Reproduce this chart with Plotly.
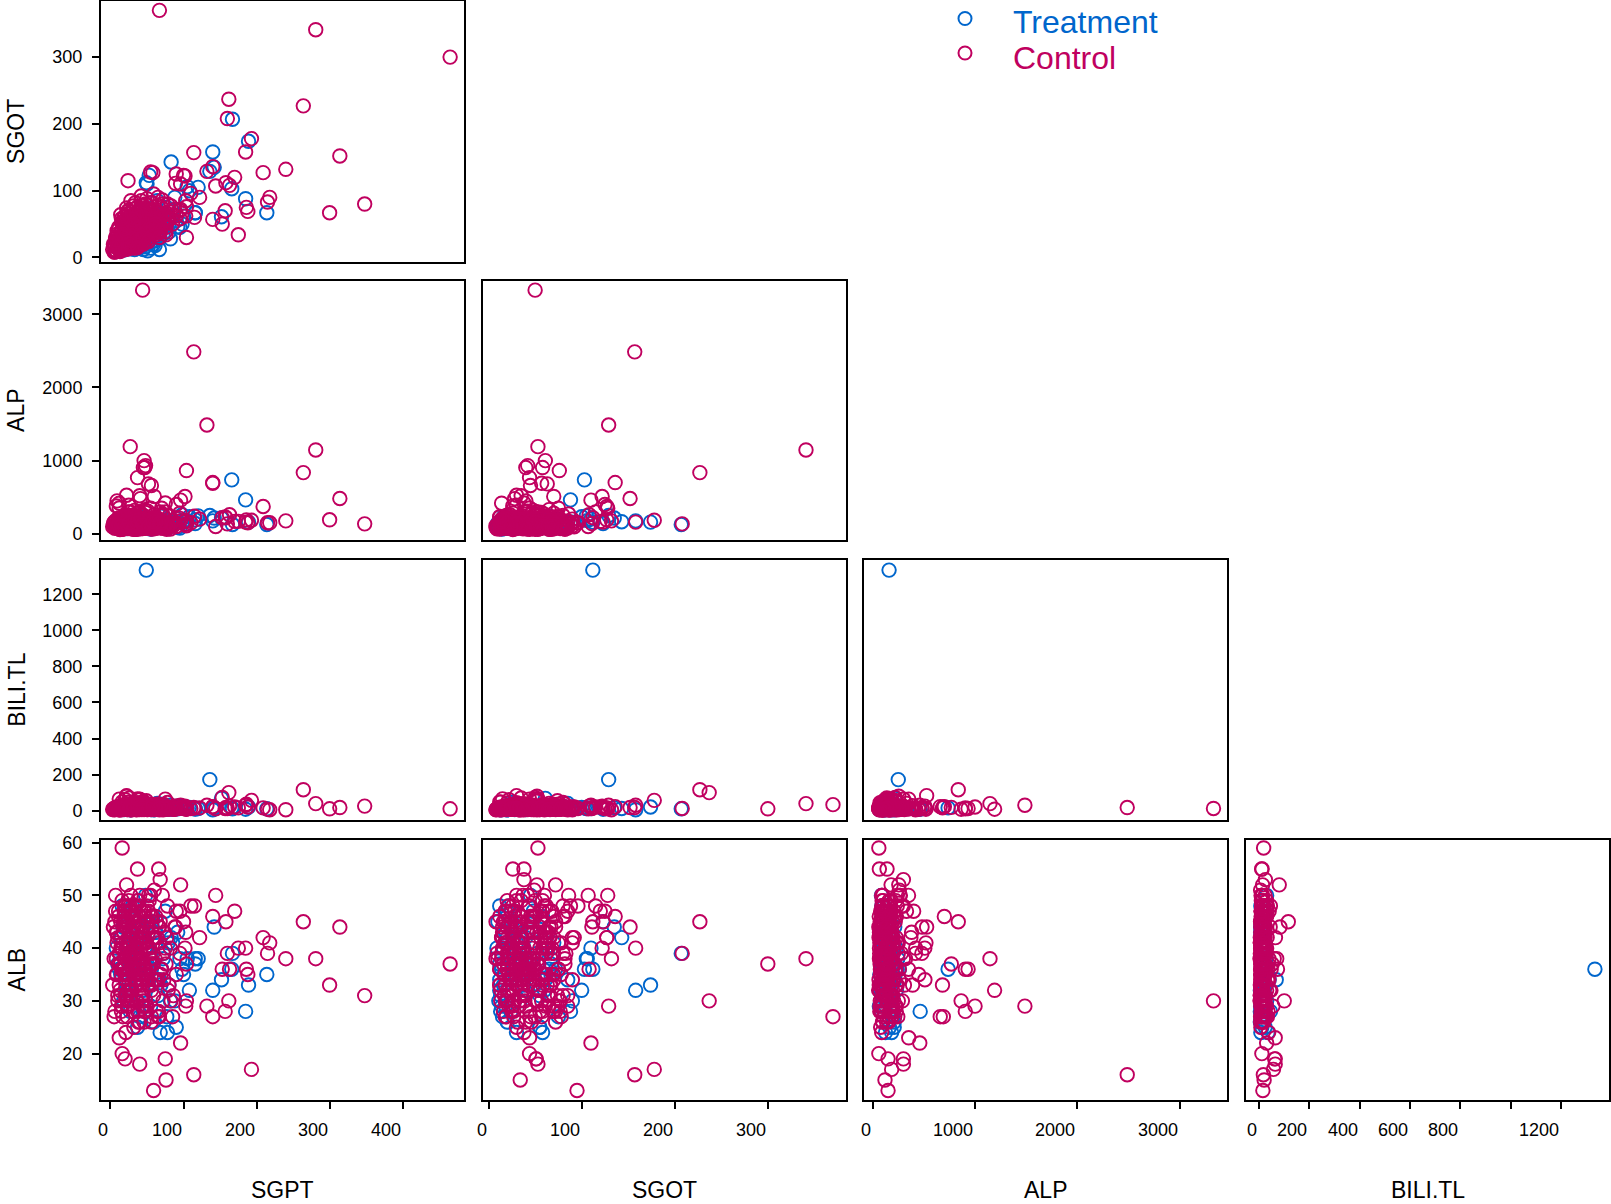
import plotly.graph_objects as go

# ---------------------------------------------------------------------------
# Lab values per subject (SGPT, SGOT, ALP, BILI.TL, ALB); None = not measured
# ---------------------------------------------------------------------------
trt_sgpt = [49, 167, 189, 140, 83, 166, 185, 214, 152, 136, 120, 108, 53, 50, 105, 142, 116,
            12, 15, 18, 20, 22, 25, 27, 30, 32, 35, 38, 40, 42, 45, 48, 50, 52, 55, 58, 60,
            62, 65, 68, 70, 75, 80, 85, 90, 95, 100, 17, 24, 28, 33, 37, 43, 47, 53, 57, 64,
            72, 78, 88, 116, 77,
            8, 14, 19, 23, 26, 29, 34, 39, 44, 47, 51, 56, 59, 63, 67, 73, 82, 92, 10, 16,
            21, 31, 36, 41, 46, 54, 61, 69, 79, 98]
trt_sgot = [112, 207, 174, 158, 143, 103, 88, 67, 61, 129, 105, 100, 123, 110, 106, 135, 67,
            14, 20, 11, 25, 16, 30, 13, 22, 35, 18, 40, 15, 28, 12, 45, 20, 38, 14, 50, 25,
            42, 55, 30, 65, 48, 38, 70, 55, 45, 62, 24, 34, 40, 12, 55, 60, 16, 72, 24, 85,
            35, 58, 90, 67, 75,
            9, 17, 28, 13, 36, 20, 48, 26, 18, 33, 10, 44, 20, 30, 12, 52, 28, 46, 16, 12,
            42, 15, 28, 58, 24, 36, 18, 48, 62, 50]
trt_alp = [160, 127, 160, 177, 165, 737, 464, 127, 215, 250, 245, 232, 140, 200, 180, 215, 190,
           80, 120, 95, 150, 70, 180, 110, 90, 200, 130, 75, 160, 100, 140, 85, 220, 115, 65, 170, 105,
           190, 88, 125, 240, 98, 150, 135, 210, 78, 175, 92, 145, 118, 82, 165, 102, 230, 125, 88, 155,
           112, 185, 160, 140, 195,
           105, 70, 135, 90, 160, 115, 78, 190, 125, 95, 148, 82, 210, 118, 100, 172, 130, 88, 155, 112,
           76, 198, 140, 92, 180, 120, 104, 165, 86, 260]
trt_bili = [1334, 10, 20, 5, 12, 15, 8, 10, 68, 172, 12, 18, 8, 12, 15, 15, 10,
            10, 6, 14, 8, 20, 12, 5, 16, 9, 25, 11, 7, 18, 13, 30, 9, 15, 6, 22, 10,
            12, 8, 35, 14, 10, 19, 7, 11, 28, 13, 9, 16, 6, 12, 24, 10, 8, 18, 14, 40,
            11, 7, 20, 9, 15,
            8, 12, 6, 15, 10, 22, 7, 14, 11, 26, 9, 13, 5, 18, 12, 8, 30, 10, 16, 7,
            20, 11, 9, 14, 45, 12, 6, 17, 10, 24]
trt_alb = [36, 39, 33, 32, 42, 36, 28, 35, 34, None, 38, 32, 45, 40, 38, 44, 37,
           36, 42, 30, 45, 33, 39, 28, 48, 35, 41, 38, 27, 44, 32, 50, 37, 40, 29, 46, 34,
           43, 31, 24, 36, 47, 33, 41, 25, 38, 35, 44, 30, 42, 37, 25, 32, 40, 36, 45, 34,
           38, 24, 30, 38, 27,
           40, 35, 44, 31, 38, 47, 33, 42, 29, 37, 45, 36, 26, 41, 34, 39, 30, 43, 37, 48,
           32, 40, 35, 46, 28, 38, 43, 33, 41, 36]

ctl_sgpt = [67, 281, 465, 162, 264, 160, 193, 185, 114, 314, 240, 209, 170, 158, 163, 140, 132,
            144, 122, 24, 186, 188, 215, 218, 300, 348, 175, 140, 104, 104, 44, 27, 46, 47, 48,
            45, 37, 52, 56, 102, 96, 90, 55, 12, 22, 40, 41, 60, 59, 75, 76, 16, 37, 66, 68, 96,
            16, 20, 40, 12, 110, 115, 103, 95, 157, 153, 103, 100, 89, 58,
            8, 10, 12, 14, 15, 16, 18, 19, 20, 21,
            22, 23, 24, 25, 26, 27, 28, 29, 30, 31,
            32, 33, 34, 35, 36, 37, 38, 39, 40, 41,
            42, 43, 44, 45, 46, 47, 48, 49, 50, 52,
            54, 55, 56, 58, 60, 62, 64, 66, 68, 70,
            72, 74, 76, 78, 80, 82, 85, 88, 90, 95,
            11, 13, 17, 19, 21, 24, 26, 28, 31, 33,
            35, 37, 39, 41, 43, 45, 48, 51, 53, 57,
            59, 61, 63, 65, 67, 69, 71, 73, 77, 83,
            9, 12, 15, 18, 20, 23, 25, 27, 29, 30,
            32, 34, 36, 38, 40, 42, 44, 46, 48, 50,
            14, 16, 18, 20, 22, 24, 26, 28, 30, 34,
            36, 38, 40, 44, 47, 50, 55, 60, 65, 75,
            6, 10, 13, 16, 19, 23, 27, 33, 39, 45,
            3, 4, 5, 6, 7, 8, 9, 10, 11, 12,
            13, 14, 15, 16, 17, 18, 19, 20, 21, 22,
            23, 24, 25, 26, 27, 28, 29, 30, 31, 32,
            33, 34, 35, 36, 37, 38, 39, 40, 41, 42,
            43, 44, 45, 46, 47, 48, 49, 50, 51, 53,
            54, 56, 57, 58, 61, 63, 66, 69, 72, 79,
            5, 7, 9, 14, 18, 22, 26, 30, 35, 42,
            17, 21, 25, 29, 33, 38, 43, 49, 56, 62,
            8, 11, 19, 24, 28, 32, 36, 41, 46, 52,
            15, 20, 26, 31, 37, 44, 52, 58, 67, 86]
ctl_sgot = [370, 341, 300, 237, 227, 208, 178, 158, 157, 152, 132, 127, 120, 112, 108, 136, 129,
            107, 90, 115, 75, 69, 83, 90, 67, 80, 34, 57, 30, 76, 50, 53, 61, 58, 42,
            40, 44, 63, 45, 122, 110, 125, 128, 14, 30, 35, 28, 70, 95, 51, 34, 53, 26, 38, 38, 72,
            44, 51, 53, 44, 96, 60, 62, 58, 70, 50, 85, 123, 111, 127,
            10, 14, 12, 18, 22, 15, 20, 28, 17, 24,
            30, 19, 26, 35, 22, 40, 28, 33, 25, 45,
            30, 38, 21, 50, 34, 27, 42, 36, 60, 31,
            46, 35, 55, 29, 40, 65, 38, 48, 33, 52,
            44, 70, 37, 58, 49, 41, 62, 55, 47, 75,
            52, 64, 45, 80, 58, 68, 50, 72, 62, 70,
            18, 26, 32, 12, 38, 16, 48, 20, 55, 26,
            24, 58, 45, 70, 25, 52, 80, 42, 62, 35,
            66, 54, 34, 78, 60, 42, 86, 58, 66, 77,
            15, 20, 25, 35, 42, 55, 30, 62, 38, 20,
            65, 44, 75, 31, 22, 85, 37, 27, 57, 72,
            30, 40, 48, 62, 52, 70, 58, 85, 48, 82,
            18, 67, 50, 78, 44, 88, 82, 36, 90, 38,
            8, 25, 9, 12, 55, 13, 16, 14, 17, 20,
            12, 20, 8, 16, 28, 22, 35, 18, 45, 26,
            14, 38, 20, 50, 27, 60, 32, 23, 44, 36,
            65, 28, 48, 17, 55, 37, 25, 42, 72, 33,
            47, 23, 62, 39, 30, 54, 26, 46, 36, 78,
            28, 61, 40, 68, 32, 50, 74, 43, 57, 30,
            63, 48, 82, 40, 56, 69, 45, 60, 80, 55,
            18, 30, 40, 64, 24, 74, 35, 18, 66, 92,
            35, 26, 70, 15, 48, 20, 33, 25, 72, 50,
            26, 16, 43, 13, 68, 56, 28, 19, 37, 42,
            58, 12, 20, 77, 15, 30, 24, 45, 30, 64]
ctl_alp = [None, 1146, None, None, 836, 135, 185, 160, 2487, 482, 177, 373, 170, 220, 260, 700, 1487,
           100, 200, 300, 190, 150, 150, 150, 191, 136, 170, 690, 110, 864, 3330, 1191, 1000, 905, 932,
           905, 768, 682, 660, 509, 460, 400, 350, 418, 527, 520, 480, 510, 150, 300, 120, 60, 65, 140, 300, 180,
           60, 150, 300, 352, 150, 240, 130, 210, 230, 220, 175, 160, 140, 190,
           85, 120, 64, 150, 98, 210, 75, 132, 180, 90,
           110, 245, 70, 160, 95, 300, 140, 88, 125, 200,
           78, 105, 170, 62, 230, 115, 92, 145, 265, 80,
           135, 190, 72, 100, 155, 330, 118, 86, 220, 128,
           95, 175, 68, 112, 260, 142, 82, 198, 105, 350,
           74, 160, 122, 90, 240, 66, 185, 130, 100, 280,
           115, 58, 205, 138, 88, 170, 102, 250, 76, 148,
           92, 225, 110, 68, 180, 124, 96, 310, 84, 152,
           130, 72, 195, 106, 158, 80, 270, 118, 62, 140,
           100, 215, 86, 165, 74, 128, 390, 94, 182, 112,
           60, 150, 235, 98, 120, 78, 172, 106, 290, 88,
           134, 70, 188, 116, 255, 82, 145, 102, 212, 66,
           96, 176, 124, 84, 200, 140, 72, 158, 108, 420,
           90, 132, 68, 228, 114, 186, 80, 104, 146, 250,
           95, 140, 110, 75, 180, 125, 88, 205, 150, 102,
           70, 165, 130, 92, 215, 118, 84, 260, 106, 145,
           190, 78, 122, 160, 98, 240, 136, 66, 175, 114,
           88, 205, 128, 150, 72, 112, 285, 96, 168, 134,
           120, 82, 196, 104, 154, 76, 230, 126, 92, 178,
           142, 100, 64, 210, 118, 166, 86, 132, 250, 108,
           160, 90, 450, 122, 74, 186, 138, 104, 228, 96,
           116, 172, 84, 146, 320, 102, 198, 80, 136, 158,
           380, 128, 94, 162, 110, 76, 144, 200, 120, 88,
           106, 232, 150, 70, 184, 124, 98, 166, 140, 112]
ctl_bili = [33, 39, 10, 100, 116, 12, 57, 30, 17, 17, 5, 15, 20, 18, 25, 22, 30,
            10, 15, 20, 35, 20, 8, 5, 10, 25, 15, 20, 10, 8, 12, 8, 20, 15, 12,
            10, 18, 15, 22, 25, 30, 12, 10, 5, 83, 8, 12, 14, 15, 64, 20, 18, 10, 12, 25, 14,
            11, 62, 64, 64, 12, 14, 20, 18, 12, 73, 9, 16, 12, 14,
            8, 12, 5, 15, 10, 20, 7, 14, 9, 25,
            11, 6, 18, 13, 30, 9, 16, 4, 22, 12,
            7, 10, 28, 14, 5, 19, 11, 35, 8, 15,
            13, 6, 24, 9, 17, 40, 10, 12, 7, 21,
            15, 8, 11, 27, 6, 14, 32, 9, 18, 10,
            5, 16, 12, 45, 8, 20, 11, 7, 26, 13,
            9, 14, 6, 19, 38, 10, 12, 23, 8, 16,
            11, 30, 7, 15, 9, 52, 13, 6, 20, 10,
            17, 8, 12, 25, 5, 14, 10, 34, 9, 18,
            12, 7, 22, 11, 16, 6, 28, 13, 8, 42,
            10, 19, 9, 14, 60, 11, 7, 24, 15, 6,
            13, 21, 8, 12, 80, 10, 17, 5, 30, 9,
            14, 11, 26, 7, 16, 12, 36, 8, 20, 10,
            6, 15, 11, 48, 9, 13, 18, 7, 22, 12,
            6, 10, 4, 14, 8, 20, 12, 7, 16, 9,
            13, 5, 18, 10, 26, 8, 15, 11, 33, 7,
            12, 20, 9, 14, 6, 24, 10, 17, 8, 29,
            11, 7, 19, 13, 44, 9, 15, 6, 21, 12,
            8, 16, 10, 31, 7, 14, 55, 11, 18, 9,
            15, 6, 22, 12, 9, 36, 13, 8, 17, 11,
            10, 14, 7, 27, 12, 9, 70, 16, 6, 20,
            9, 13, 23, 8, 15, 11, 39, 7, 18, 12,
            14, 7, 10, 47, 9, 16, 12, 21, 6, 11,
            8, 12, 18, 10, 65, 14, 9, 25, 13, 7]
ctl_alb = [27, 38, 37, 30, 45, 39, 17, 40, 16, 44, 38, 42, 47, 45, 36, 46, 29,
           50, 42, 48, 36, 35, 39, 41, 33, 31, 40, 27, 37, 30, 30, 32, 29, 28, 36,
           36, 37, 33, 27, 40, 22, 47, 50, 39, 44, 41, 39, 34, 13, 19, 15, 59, 55, 55, 53, 52,
           20, 19, 18, 23, 48, 48, 43, 47, 28, 36, 29, 45, 44, 42,
           38, 42, 33, 45, 29, 40, 36, 47, 31, 44,
           35, 27, 41, 49, 32, 38, 46, 30, 43, 37,
           25, 39, 48, 34, 42, 28, 45, 36, 50, 33,
           40, 31, 44, 37, 26, 47, 35, 41, 29, 43,
           38, 46, 32, 39, 51, 34, 42, 28, 45, 36,
           30, 43, 37, 48, 33, 40, 27, 44, 35, 39,
           47, 32, 41, 36, 24, 45, 38, 30, 43, 34,
           40, 49, 35, 42, 29, 37, 46, 33, 39, 44,
           31, 38, 45, 27, 41, 36, 50, 34, 42, 30,
           43, 37, 28, 46, 35, 40, 33, 48, 39, 32,
           44, 36, 41, 26, 38, 47, 34, 42, 30, 45,
           37, 29, 43, 39, 52, 35, 40, 31, 46, 38,
           33, 44, 36, 41, 28, 48, 37, 42, 34, 40,
           45, 31, 39, 36, 47, 30, 43, 38, 35, 41,
           33, 44, 38, 28, 47, 35, 41, 30, 46, 39,
           42, 31, 36, 49, 27, 43, 38, 34, 48, 40,
           29, 45, 37, 41, 32, 50, 36, 43, 28, 39,
           46, 34, 40, 30, 44, 37, 48, 26, 42, 35,
           38, 43, 31, 47, 36, 41, 29, 45, 34, 49,
           40, 33, 46, 37, 42, 28, 44, 35, 39, 32,
           27, 50, 35, 40, 45, 31, 38, 47, 33, 42,
           36, 41, 29, 44, 38, 49, 34, 40, 26, 46,
           43, 37, 48, 32, 39, 45, 30, 41, 36, 50,
           35, 46, 39, 28, 42, 33, 47, 37, 44, 31]

variables = ["SGPT", "SGOT", "ALP", "BILI.TL", "ALB"]
groups = ["Treatment", "Control"]
group_colors = {"Treatment": "#0066CC", "Control": "#C0005F"}
group_data = {
    "Treatment": {"SGPT": trt_sgpt, "SGOT": trt_sgot, "ALP": trt_alp, "BILI.TL": trt_bili, "ALB": trt_alb},
    "Control": {"SGPT": ctl_sgpt, "SGOT": ctl_sgot, "ALP": ctl_alp, "BILI.TL": ctl_bili, "ALB": ctl_alb},
}

axis_ranges = {"SGPT": [-13, 484], "SGOT": [-6, 384], "ALP": [-85, 3462],
               "BILI.TL": [-52, 1390], "ALB": [11.2, 60.6]}
tick_values = {"SGPT": [0, 100, 200, 300, 400], "SGOT": [0, 100, 200, 300],
               "ALP": [0, 1000, 2000, 3000], "BILI.TL": [0, 200, 400, 600, 800, 1000, 1200],
               "ALB": [20, 30, 40, 50, 60]}
x_tick_text = {"SGPT": ["0", "100", "200", "300", "400"], "SGOT": ["0", "100", "200", "300"],
               "ALP": ["0", "1000", "2000", "3000"],
               "BILI.TL": ["0", "200", "400", "600", "800", "", "1200"]}

# ---------------------------------------------------------------------------
# Panel geometry (pixels in a 1611 x 1204 page)
# ---------------------------------------------------------------------------
W, H = 1611, 1204
col_px = [(101, 464), (483, 846), (864, 1227), (1246, 1609)]
row_px = [(1, 261.5), (280.5, 540), (560, 820), (839.5, 1100)]
FONT = "Liberation Sans, Arial, Helvetica, sans-serif"

fig = go.Figure()
layout = dict(template="none", width=W, height=H,
              margin=dict(l=0, r=0, t=0, b=0, pad=0, autoexpand=False),
              paper_bgcolor="white", plot_bgcolor="white", showlegend=False,
              font=dict(family=FONT, color="black"))
annotations = []
shapes = []

k = 0
for r in range(1, 5):
    yvar = variables[r]
    for c in range(r):
        xvar = variables[c]
        k += 1
        xa, ya = f"x{k}", f"y{k}"
        for g in groups:
            d = group_data[g]
            fig.add_trace(go.Scatter(
                x=d[xvar], y=d[yvar], xaxis=xa, yaxis=ya, mode="markers", name=g,
                marker=dict(symbol="circle-open", size=13.5, color=group_colors[g],
                            line=dict(width=1.9, color=group_colors[g])),
                hoverinfo="skip"))
        x0, x1 = col_px[c]
        y0, y1 = row_px[r - 1]
        bottom = (r == 4)
        left = (c == 0)
        layout[f"xaxis{k}"] = dict(
            domain=[x0 / W, x1 / W], range=axis_ranges[xvar], anchor=ya, automargin=False,
            showline=True, mirror=True, linecolor="black", linewidth=2,
            showgrid=False, zeroline=False, fixedrange=True,
            tickvals=tick_values[xvar], showticklabels=False,
            ticks="outside" if bottom else "", ticklen=7, tickwidth=2, tickcolor="black")
        layout[f"yaxis{k}"] = dict(
            domain=[1 - y1 / H, 1 - y0 / H], range=axis_ranges[yvar], anchor=xa, automargin=False,
            showline=True, mirror=True, linecolor="black", linewidth=2,
            showgrid=False, zeroline=False, fixedrange=True,
            tickvals=tick_values[yvar], showticklabels=left,
            ticks="outside" if left else "", ticklen=7, tickwidth=2, tickcolor="black",
            tickfont=dict(size=18, family=FONT, color="black"), ticklabelstandoff=6)
        if bottom:
            # x tick labels sit with their right edge on the tick
            for v, t in zip(tick_values[xvar], x_tick_text[xvar]):
                if t:
                    annotations.append(dict(
                        x=v, xref=xa, y=1 - 1129.5 / H, yref="paper", text=t,
                        xanchor="right", yanchor="middle", showarrow=False,
                        font=dict(size=18, family=FONT, color="black")))
            annotations.append(dict(
                x=(x0 + x1) / 2 / W, xref="paper", y=1 - 1190 / H, yref="paper",
                text=xvar, showarrow=False, xanchor="center", yanchor="middle",
                font=dict(size=23, family=FONT, color="black")))
        if left:
            annotations.append(dict(
                x=16.7 / W, xref="paper", y=1 - (y0 + y1) / 2 / H, yref="paper",
                text=yvar, textangle=-90, showarrow=False, xanchor="center", yanchor="middle",
                font=dict(size=23, family=FONT, color="black")))

# legend: open circles with group names
for g, cy, ty in [("Treatment", 18.5, 21.5), ("Control", 53.0, 57.5)]:
    col = group_colors[g]
    rad = 6.5
    shapes.append(dict(type="circle", xref="paper", yref="paper",
                       x0=(965 - rad) / W, x1=(965 + rad) / W,
                       y0=1 - (cy + rad) / H, y1=1 - (cy - rad) / H,
                       line=dict(color=col, width=2)))
    annotations.append(dict(x=1011 / W, xref="paper", y=1 - ty / H, yref="paper",
                            text=g, showarrow=False, xanchor="left", yanchor="middle",
                            font=dict(size=32, family=FONT, color=col)))

layout["annotations"] = annotations
layout["shapes"] = shapes
fig.update_layout(**layout)
fig.write_html("out.html")
